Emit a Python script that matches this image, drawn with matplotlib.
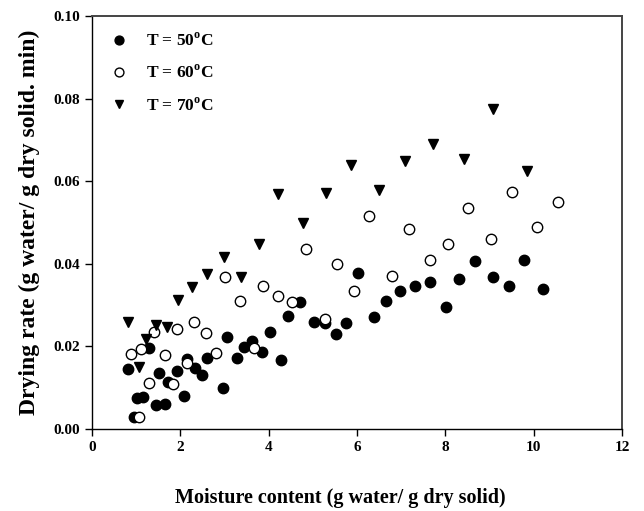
import matplotlib
matplotlib.use('Agg')
import matplotlib.pyplot as plt
from matplotlib.ticker import FormatStrFormatter

plt.rcParams['font.family'] = 'Liberation Serif'
plt.rcParams['font.weight'] = 'bold'
plt.rcParams['mathtext.fontset'] = 'custom'
plt.rcParams['mathtext.rm'] = 'Liberation Serif:bold'
plt.rcParams['mathtext.bf'] = 'Liberation Serif:bold'

# T = 50 C (filled circles)
x50 = [0.82, 0.96, 1.01, 1.15, 1.28, 1.46, 1.51, 1.65, 1.71, 1.93, 2.08, 2.16, 2.33, 2.48,
       2.60, 2.96, 3.05, 3.28, 3.44, 3.63, 3.86, 4.03, 4.27, 4.43, 4.71, 5.03, 5.28, 5.53,
       5.76, 6.02, 6.38, 6.66, 6.97, 7.31, 7.65, 8.01, 8.31, 8.67, 9.08, 9.45, 9.79, 10.20]
y50 = [0.0145, 0.0028, 0.0076, 0.0078, 0.0197, 0.0058, 0.0136, 0.0061, 0.0115, 0.0141,
       0.0081, 0.0169, 0.0147, 0.0131, 0.0173, 0.0100, 0.0223, 0.0172, 0.0199, 0.0213,
       0.0186, 0.0234, 0.0167, 0.0274, 0.0308, 0.0260, 0.0257, 0.0229, 0.0256, 0.0377,
       0.0272, 0.0311, 0.0335, 0.0347, 0.0357, 0.0296, 0.0363, 0.0407, 0.0368, 0.0347,
       0.0410, 0.0340]

# T = 60 C (open circles)
x60 = [0.88, 1.06, 1.10, 1.30, 1.40, 1.65, 1.83, 1.92, 2.16, 2.32, 2.58, 2.81, 3.00, 3.36,
       3.67, 3.88, 4.22, 4.53, 4.84, 5.28, 5.54, 5.94, 6.28, 6.80, 7.17, 7.65, 8.06, 8.51,
       9.04, 9.50, 10.07, 10.56]
y60 = [0.0182, 0.0030, 0.0194, 0.0111, 0.0235, 0.0180, 0.0109, 0.0241, 0.0159, 0.0260,
       0.0232, 0.0185, 0.0369, 0.0310, 0.0195, 0.0346, 0.0323, 0.0308, 0.0435, 0.0266,
       0.0399, 0.0335, 0.0516, 0.0371, 0.0484, 0.0409, 0.0449, 0.0534, 0.0460, 0.0574,
       0.0489, 0.0549]

# T = 70 C (triangles)
x70 = [0.82, 1.07, 1.22, 1.45, 1.70, 1.94, 2.26, 2.60, 2.98, 3.38, 3.77, 4.22, 4.78, 5.29,
       5.86, 6.50, 7.09, 7.73, 8.42, 9.09, 9.85]
y70 = [0.0258, 0.0151, 0.0218, 0.0253, 0.0248, 0.0312, 0.0345, 0.0375, 0.0417, 0.0369,
       0.0449, 0.0568, 0.0498, 0.0572, 0.0639, 0.0579, 0.0649, 0.0690, 0.0654, 0.0776,
       0.0625]

labels = [r'T = 50$^{\mathrm{o}}$C', r'T = 60$^{\mathrm{o}}$C', r'T = 70$^{\mathrm{o}}$C']

fig = plt.figure(figsize=(6.44, 5.11), dpi=100)
ax = fig.add_axes([92/644, 82/511, 530/644, 413/511])

ax.plot(x50, y50, 'o', color='black', markersize=7.5, linestyle='none', label=labels[0])
ax.plot(x60, y60, 'o', markerfacecolor='white', markeredgecolor='black', markeredgewidth=1,
        markersize=7.5, linestyle='none', label=labels[1])
ax.plot(x70, y70, 'v', color='black', markersize=7.5, linestyle='none', label=labels[2])

ax.set_xlim(0, 12)
ax.set_ylim(0, 0.10)
ax.set_xticks([0, 2, 4, 6, 8, 10, 12])
ax.set_yticks([0.00, 0.02, 0.04, 0.06, 0.08, 0.10])
ax.yaxis.set_major_formatter(FormatStrFormatter('%.2f'))
ax.tick_params(direction='out', length=5, width=1, labelsize=11, top=False, right=False)
for lab in ax.get_xticklabels() + ax.get_yticklabels():
    lab.set_fontweight('bold')
for sp in ax.spines.values():
    sp.set_linewidth(1)
ax.spines['top'].set_color('#444444')
ax.spines['right'].set_color('#444444')
ax.spines['top'].set_linewidth(1.4)
ax.spines['right'].set_linewidth(1.4)

ax.set_xlabel('Moisture content (g water/ g dry solid)', fontsize=14.5, fontweight='bold')
ax.xaxis.set_label_coords(0.468, -0.142)
ax.set_ylabel('Drying rate (g water/ g dry solid. min)', fontsize=17, fontweight='bold', labelpad=10)

ax.legend(loc='upper left', frameon=False, fontsize=12.5, labelspacing=0.85, handletextpad=0.9,
          borderaxespad=0.5, borderpad=0.45, handlelength=1.25, markerscale=0.85)

fig.savefig('out.png', dpi=100)
